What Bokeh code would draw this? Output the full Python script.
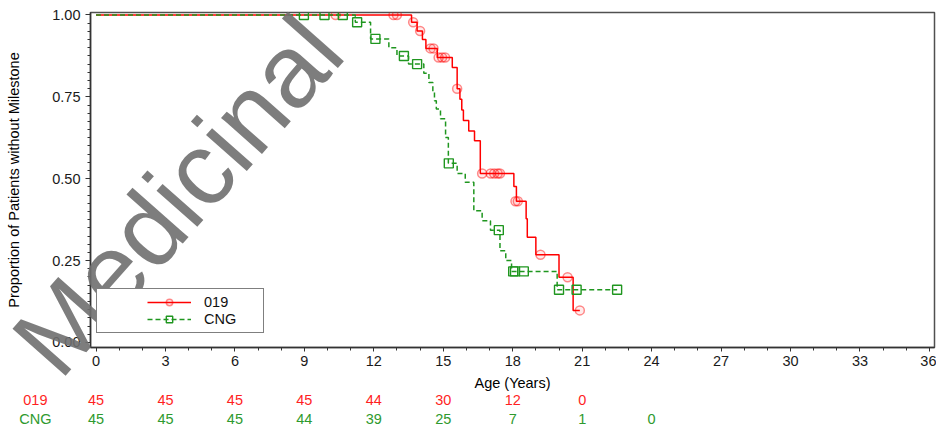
from bokeh.plotting import figure
from bokeh.models import (Range1d, FixedTicker, PrintfTickFormatter, Legend,
                          LegendItem)
from bokeh.embed import file_html
from bokeh.resources import INLINE
from bokeh.core.properties import value

# ---------------- data ----------------
# Kaplan-Meier curve, group 019 (event times in years, proportion after event)
t_019 = [0, 13.63, 13.87, 14.10, 14.25, 14.74, 15.39, 15.60, 15.72, 15.80, 15.87,
         16.10, 16.35, 16.60, 18.05, 18.16, 18.58, 18.63, 19.00, 20.00, 20.61, 20.90]
s_019 = [1.0, 0.978, 0.951, 0.925, 0.898, 0.870, 0.840, 0.775, 0.743, 0.710, 0.678,
         0.646, 0.616, 0.516, 0.476, 0.431, 0.378, 0.321, 0.268, 0.199, 0.098, 0.098]
cens_t_019 = [10.35, 12.85, 13.00, 13.70, 14.00, 14.45, 14.58, 14.80, 14.95, 15.08,
              15.60, 16.68, 17.05, 17.20, 17.35, 17.45, 18.12, 18.22, 19.20, 20.37, 20.90]
cens_s_019 = [1.0, 1.0, 1.0, 0.978, 0.951, 0.898, 0.898, 0.870, 0.870, 0.870,
              0.775, 0.516, 0.516, 0.516, 0.516, 0.516, 0.431, 0.431, 0.268, 0.199, 0.098]

# Kaplan-Meier curve, group CNG
t_cng = [0, 11.20, 11.86, 12.65, 13.00, 13.50, 14.16, 14.38, 14.55, 14.62, 14.70,
         14.88, 15.10, 15.22, 15.60, 15.95, 16.32, 16.68, 17.04, 17.45, 17.70, 17.95,
         19.92, 22.51]
s_cng = [1.0, 0.978, 0.927, 0.900, 0.875, 0.850, 0.822, 0.794, 0.766, 0.738, 0.713,
         0.683, 0.626, 0.547, 0.516, 0.489, 0.402, 0.372, 0.343, 0.280, 0.250, 0.217,
         0.161, 0.161]
cens_t_cng = [8.98, 9.87, 10.66, 11.28, 12.07, 13.30, 13.87, 15.24, 17.40, 18.02,
              18.10, 18.48, 20.00, 20.76, 22.51]
cens_s_cng = [1.0, 1.0, 1.0, 0.978, 0.927, 0.875, 0.850, 0.547, 0.343, 0.217,
              0.217, 0.217, 0.161, 0.161, 0.161]

# Numbers at risk
risk_times = [0, 3, 6, 9, 12, 15, 18, 21, 24]
risk_019 = [45, 45, 45, 45, 44, 30, 12, 0]
risk_cng = [45, 45, 45, 44, 39, 25, 7, 1, 0]

# axis ticks
x_major = list(range(0, 37, 3))
x_minor = list(range(0, 37))
y_major = [0.0, 0.25, 0.5, 0.75, 1.0]
y_minor = [round(i * 0.025, 3) for i in range(41)]

group_labels = ["019", "CNG"]
x_label = "Age (Years)"
y_label = "Proportion of Patients without Milestone"
watermark = "Medicinal"

# ---------------- layout / style constants ----------------
FONT = "Liberation Sans"
RED = "#ff0000"
GREEN = "#1f961f"
RED_TXT = "#ff1f1f"
GREEN_TXT = "#2e9a2e"
ROW_Y = {"019": -0.177, "CNG": -0.235}     # vertical place of the at-risk rows
ROW_LABEL_X = -2.62                         # x place of the row names
WM_X, WM_Y = -2.70, -0.049                  # watermark anchor

p = figure(width=936, height=426,
           x_range=Range1d(-0.238, 36.22), y_range=Range1d(-0.0153, 1.0076),
           output_backend="svg", toolbar_location=None,
           min_border_left=90, min_border_right=2,
           min_border_top=12, min_border_bottom=79)
p.grid.visible = False
p.outline_line_color = "#505050"
p.outline_line_width = 1.5
p.background_fill_color = "white"
p.border_fill_color = "white"

r_line = p.step(t_019, s_019, mode="after", line_color=RED, line_width=1.5)
r_pts = p.scatter(cens_t_019, cens_s_019, marker="circle", size=9,
                  line_color=RED, line_alpha=0.45, line_width=1.5,
                  fill_color=RED, fill_alpha=0.08)
g_line = p.step(t_cng, s_cng, mode="after", line_color=GREEN, line_width=1.5,
                line_dash="5 3")
g_pts = p.scatter(cens_t_cng, cens_s_cng, marker="square", size=9,
                  line_color=GREEN, line_width=1.4, fill_color=None)

# axes
for ax in (p.xaxis, p.yaxis):
    ax.axis_line_color = "#333333"
    ax.axis_line_width = 1.5
    ax.major_tick_line_color = "#333333"
    ax.minor_tick_line_color = "#333333"
    ax.major_tick_in = 0
    ax.minor_tick_in = 0
    ax.major_label_text_font = FONT
    ax.major_label_text_color = "#1a1a1a"
    ax.axis_label_text_font = FONT
    ax.axis_label_text_font_style = "normal"
    ax.axis_label_text_color = "#000000"

p.xaxis.ticker = FixedTicker(ticks=x_major, minor_ticks=x_minor)
p.xaxis.major_tick_out = 4
p.xaxis.minor_tick_out = 3
p.xaxis.major_label_standoff = 4
p.xaxis.major_label_text_font_size = "14.5px"
p.xaxis.axis_label = x_label
p.xaxis.axis_label_text_font_size = "14.5px"
p.xaxis.axis_label_standoff = 6

p.yaxis.ticker = FixedTicker(ticks=y_major, minor_ticks=y_minor)
p.yaxis.formatter = PrintfTickFormatter(format="%.2f")
p.yaxis.major_tick_out = 5
p.yaxis.minor_tick_out = 3
p.yaxis.major_label_standoff = 5
p.yaxis.major_label_text_font_size = "14.5px"
p.yaxis.axis_label = y_label
p.yaxis.axis_label_text_font_size = "14.5px"
p.yaxis.axis_label_standoff = 27

legend = Legend(items=[LegendItem(label=group_labels[0], renderers=[r_line, r_pts]),
                       LegendItem(label=group_labels[1], renderers=[g_line, g_pts])],
                location=(6, 14), title=" ", title_location="left",
                title_text_font_size="1px", title_standoff=44,
                padding=5, spacing=1, glyph_width=44, glyph_height=16,
                label_height=16, label_width=54, label_standoff=13,
                label_text_font=FONT, label_text_font_size="14.5px",
                label_text_color="#111111",
                border_line_color="#000000", border_line_width=1,
                background_fill_color="white", background_fill_alpha=1.0)
p.add_layout(legend)

# numbers at risk (drawn below the frame, so on the unclipped overlay level)
p.text(x=risk_times[:len(risk_019)], y=[ROW_Y["019"]] * len(risk_019),
       text=[str(v) for v in risk_019], text_align="center",
       text_baseline="middle", text_color=RED_TXT, text_font=value(FONT),
       text_font_size="14.5px", level="overlay")
p.text(x=risk_times[:len(risk_cng)], y=[ROW_Y["CNG"]] * len(risk_cng),
       text=[str(v) for v in risk_cng], text_align="center",
       text_baseline="middle", text_color=GREEN_TXT, text_font=value(FONT),
       text_font_size="14.5px", level="overlay")
p.text(x=[ROW_LABEL_X, ROW_LABEL_X], y=[ROW_Y["019"], ROW_Y["CNG"]],
       text=group_labels, text_align="center", text_baseline="middle",
       text_color=[RED_TXT, GREEN_TXT], text_font=value(FONT),
       text_font_size="14.5px", level="overlay")

# watermark
p.text(x=[WM_X], y=[WM_Y], text=[watermark], angle=48.5, angle_units="deg",
       text_font=value(FONT), text_font_size="103px", text_color="#6f6f6f",
       text_alpha=0.9, text_align="left", text_baseline="alphabetic",
       level="overlay")

open("out.html", "w").write(file_html(p, INLINE))
